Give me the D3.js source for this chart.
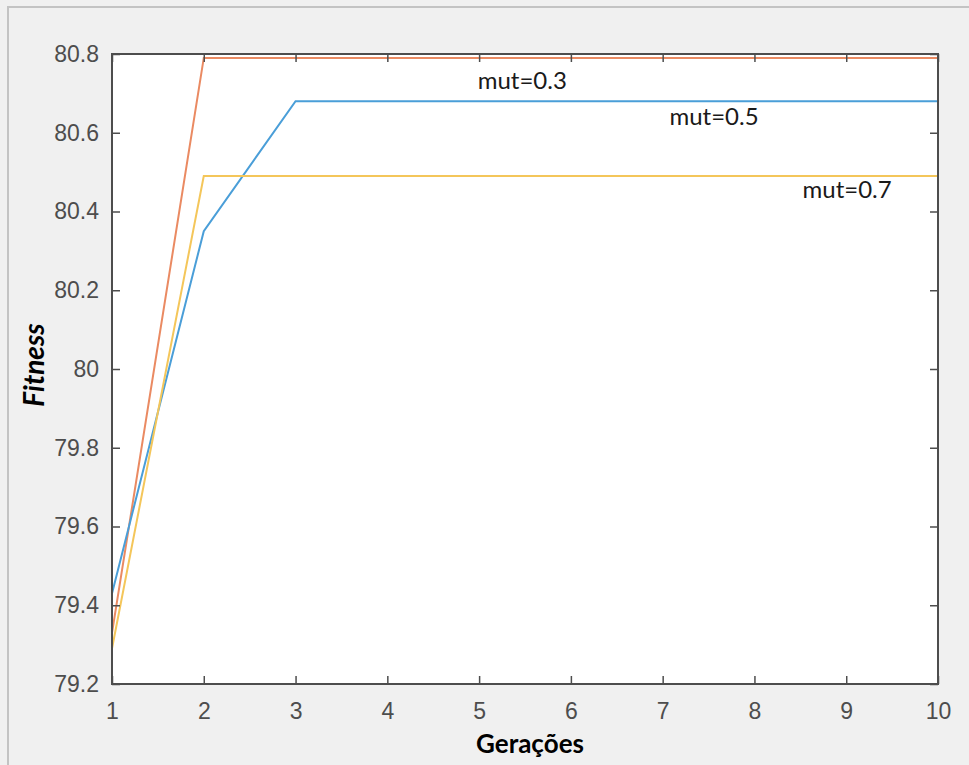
<!DOCTYPE html>
<html>
<head>
<meta charset="utf-8">
<script src="https://cdn.jsdelivr.net/npm/d3@7"></script>
<style>
  body { margin: 0; background: #fff; }
  svg { display: block; }
</style>
</head>
<body>
<script>
// generations on the x axis
var geracoes = [1, 2, 3, 4, 5, 6, 7, 8, 9, 10];
// best fitness per generation, one array per mutation rate
var mut03 = [79.33, 80.79, 80.79, 80.79, 80.79, 80.79, 80.79, 80.79, 80.79, 80.79];
var mut05 = [79.43, 80.35, 80.68, 80.68, 80.68, 80.68, 80.68, 80.68, 80.68, 80.68];
var mut07 = [79.29, 80.49, 80.49, 80.49, 80.49, 80.49, 80.49, 80.49, 80.49, 80.49];
var yTicks = [79.2, 79.4, 79.6, 79.8, 80, 80.2, 80.4, 80.6, 80.8];
var labels = ['mut=0.3', 'mut=0.5', 'mut=0.7'];
// where the text labels sit (generation, fitness)
var labelPos = [[5.47, 80.711], [7.56, 80.62], [9.01, 80.434]];

let width = 969, height = 765;
let padLeft = 112, padTop = 54, padRight = 938, padBottom = 684;

var svg = d3.select('body').append('svg')
    .attr('width', width)
    .attr('height', height);

// grey window background with its frame
svg.append('rect').attr('x', 0).attr('y', 0).attr('width', width).attr('height', height).attr('fill', '#f0f0f0');
svg.append('path').attr('d', 'M8,' + height + 'V7H' + width)
    .attr('fill', 'none').attr('stroke', '#c3c3c3').attr('stroke-width', 2);

let xScale = d3.scaleLinear().domain([1, 10]).range([padLeft, padRight]);
let yScale = d3.scaleLinear().domain([79.2, 80.8]).range([padBottom, padTop]);

svg.append('rect')
    .attr('x', padLeft).attr('y', padTop)
    .attr('width', padRight - padLeft).attr('height', padBottom - padTop)
    .attr('fill', '#fff');

var series = [
    { values: mut03, color: '#ea8a62' },
    { values: mut05, color: '#4a9ed8' },
    { values: mut07, color: '#f4c65a' }
];

var line = d3.line()
    .x((d, i) => xScale(geracoes[i]))
    .y(d => yScale(d));

svg.selectAll('path.serie')
    .data(series)
    .enter()
    .append('path')
    .attr('class', 'serie')
    .attr('d', d => line(d.values))
    .attr('fill', 'none')
    .attr('stroke', d => d.color)
    .attr('stroke-width', 2);

// axes, MATLAB style: ticks pointing inward, box all round
var tickColor = '#4d4d4d';
var xAxis = d3.axisBottom(xScale).tickValues(geracoes).tickSize(-8).tickPadding(19).tickFormat(d3.format('d'));
var xTop = d3.axisTop(xScale).tickValues(geracoes).tickSize(-8).tickFormat('');
var yAxis = d3.axisLeft(yScale).tickValues(yTicks).tickSize(-8).tickPadding(13).tickFormat(d => d3.format('')(+d.toFixed(1)));
var yRight = d3.axisRight(yScale).tickValues(yTicks).tickSize(-8).tickFormat('');

function styleAxis(g) {
    g.selectAll('path').attr('stroke', tickColor).attr('stroke-width', 2);
    g.selectAll('line').attr('stroke', tickColor).attr('stroke-width', 1.5);
    g.selectAll('text').attr('fill', tickColor)
        .style('font-family', 'Liberation Sans, Arial, sans-serif')
        .style('font-size', '23px');
}

svg.append('g').attr('transform', 'translate(0,' + padBottom + ')').call(xAxis).call(styleAxis);
svg.append('g').attr('transform', 'translate(0,' + padTop + ')').call(xTop).call(styleAxis);
svg.append('g').attr('transform', 'translate(' + padLeft + ',0)').call(yAxis).call(styleAxis);
svg.append('g').attr('transform', 'translate(' + padRight + ',0)').call(yRight).call(styleAxis);
svg.selectAll('.domain').remove();
svg.append('rect')
    .attr('x', padLeft).attr('y', padTop)
    .attr('width', padRight - padLeft).attr('height', padBottom - padTop)
    .attr('fill', 'none').attr('stroke', tickColor).attr('stroke-width', 2);

// series labels
svg.selectAll('text.lbl')
    .data(labels)
    .enter()
    .append('text')
    .attr('class', 'lbl')
    .attr('x', (d, i) => xScale(labelPos[i][0]))
    .attr('y', (d, i) => yScale(labelPos[i][1]))
    .attr('text-anchor', 'middle')
    .attr('fill', '#1a1a1a')
    .style('font-family', 'Lato, Open Sans, sans-serif')
    .style('font-size', '24px')
    .text(d => d);

// axis titles
svg.append('text')
    .attr('x', 530)
    .attr('y', 753)
    .attr('text-anchor', 'middle')
    .style('font-family', 'Lato, Open Sans, sans-serif')
    .style('font-weight', 'bold')
    .style('font-size', '26px')
    .text('Gerações');

svg.append('text')
    .attr('transform', 'translate(44,' + 365 + ') rotate(-90)')
    .attr('text-anchor', 'middle')
    .style('font-family', 'Lato, Open Sans, sans-serif')
    .style('font-weight', 'bold')
    .style('font-style', 'italic')
    .style('font-size', '28px')
    .text('Fitness');
</script>
</body>
</html>
